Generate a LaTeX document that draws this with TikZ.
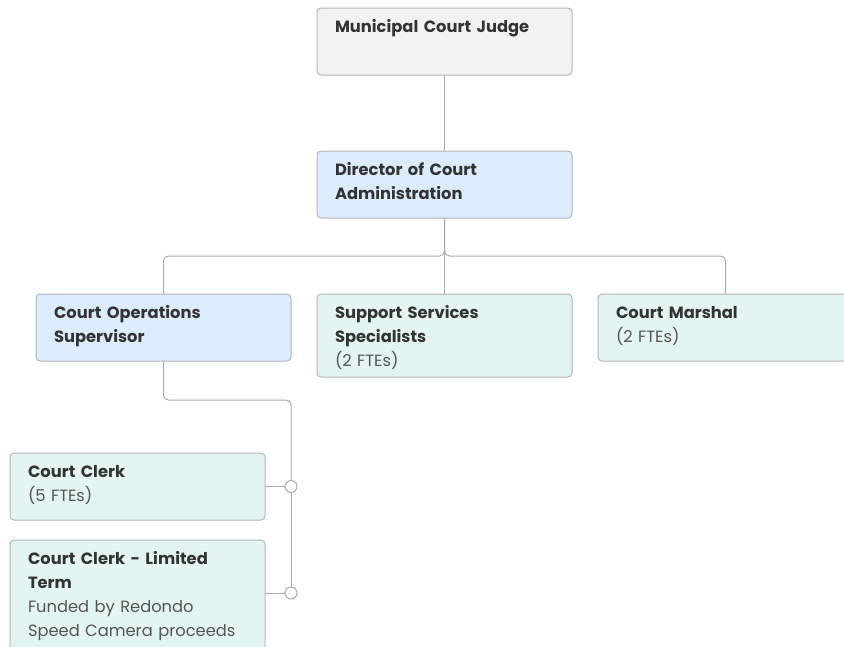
\documentclass[tikz,border=0pt]{standalone}
\usepackage{fontspec}
\setmainfont{Poppins}
\usetikzlibrary{positioning, calc}

\definecolor{boxline}{HTML}{B5B5B5}
\definecolor{linkline}{HTML}{ABABAB}
\definecolor{judgefill}{HTML}{F2F2F2}
\definecolor{leadfill}{HTML}{DBECFD}
\definecolor{stafffill}{HTML}{E3F4F4}
\definecolor{titletext}{HTML}{333333}
\definecolor{subtext}{HTML}{555555}

\begin{document}
\begin{tikzpicture}[
    x=1pt, y=-1pt,
    node distance=76pt and 26pt,
    orgbox/.style={rectangle, draw=boxline, line width=1pt, outer sep=0pt, rounded corners=4pt, text width=219pt, align=left, inner xsep=18pt, inner ysep=8pt, text height=16pt, text depth=#1, anchor=north, font=\fontsize{16.3}{24}\selectfont, text=titletext},
    orgbox/.default=35pt,
    dot/.style={circle, draw=linkline, fill=white, line width=1pt, minimum size=12pt, inner sep=0pt},
    link/.style={draw=linkline, line width=1pt, rounded corners=5pt}
]
    \clip (0,0) rectangle (844,646);

    % Top of the court
    \node (judge) [orgbox, fill=judgefill] at (444.5,8) {\textbf{Municipal Court Judge}};
    \node (director) [orgbox, fill=leadfill, below=of judge] {\textbf{Director of Court}\\\textbf{Administration}};

    % Second row
    \node (support) [orgbox=51pt, fill=stafffill, below=of director] {\textbf{Support Services}\\\textbf{Specialists}\\{\color{subtext}(2 FTEs)}};
    \node (ops) [orgbox, fill=leadfill, left=of support.north west, anchor=north east] {\textbf{Court Operations}\\\textbf{Supervisor}};
    \node (marshal) [orgbox, fill=stafffill, right=of support.north east, anchor=north west] {\textbf{Court Marshal}\\{\color{subtext}(2 FTEs)}};

    % Clerks
    \node (clerk) [orgbox, fill=stafffill, below=92pt of ops.south west, anchor=north west, xshift=-26pt] {\textbf{Court Clerk}\\{\color{subtext}(5 FTEs)}};
    \node (limited) [orgbox=90pt, fill=stafffill, below=20pt of clerk] {\textbf{Court Clerk - Limited}\\\textbf{Term}\\{\color{subtext}Funded by Redondo}\\{\color{subtext}Speed Camera proceeds}};

    \coordinate (bus) at ($(director.south)+(0,38)$);
    \coordinate (spine) at ($(ops.south east)+(0,39)$);
    \node (clerkdot) [dot] at (clerk.east -| spine) {};
    \node (limdot) [dot] at ([yshift=-53pt]limited.north -| spine) {};

    % Connectors
    \draw [link] (judge) -- (director);
    \draw [link] (director.south) -- (support.north);
    \draw [link] (director.south) |- (ops.north |- bus) -- (ops.north);
    \draw [link] (director.south) |- (marshal.north |- bus) -- (marshal.north);

    \draw [link] (ops.south) |- (spine) -- (clerkdot);
    \draw [link] (clerkdot) -- (limdot);
    \draw [link] (clerk) -- (clerkdot);
    \draw [link] (limited.east |- limdot) -- (limdot);

\end{tikzpicture}
\end{document}
